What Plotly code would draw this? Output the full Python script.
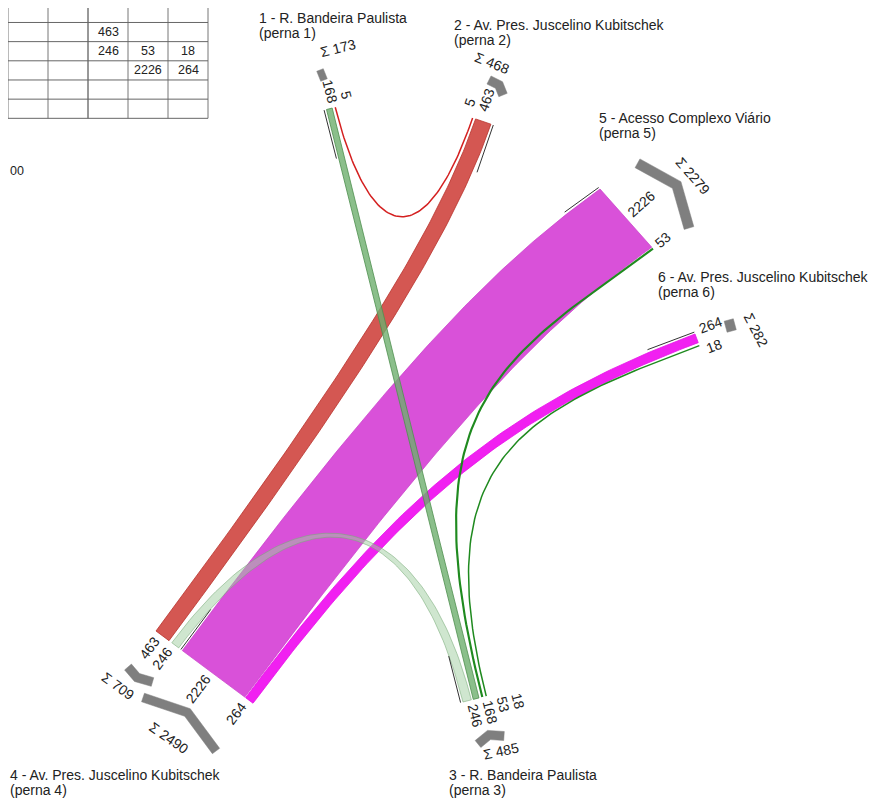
import numpy as np
import plotly.graph_objects as go

# ---- data: turning movements (veh/h), origin leg -> destination leg ----
flow_origin = [1, 4, 1, 4, 5, 6, 5, 6]
flow_dest = [2, 2, 3, 3, 3, 3, 4, 4]
flow_volume = [5, 463, 168, 246, 53, 18, 2226, 264]

leg_ids = [1, 2, 3, 4, 5, 6]
leg_names = [
    "1 - R. Bandeira Paulista",
    "2 - Av. Pres. Juscelino Kubitschek",
    "3 - R. Bandeira Paulista",
    "4 - Av. Pres. Juscelino Kubitschek",
    "5 - Acesso Complexo Viário",
    "6 - Av. Pres. Juscelino Kubitschek",
]
leg_subtitles = ["(perna 1)", "(perna 2)", "(perna 3)", "(perna 4)", "(perna 5)", "(perna 6)"]

# ---- drawing setup (pixel space of the page, y down) ----
# the page body has an 8px margin, so the figure is 8px smaller and the axes start at 8
PAGE_W, PAGE_H, BODY = 878, 798, 8
SCALE = 0.035  # px per veh/h
FONT = "Liberation Sans, Arial, sans-serif"
TXT = "#222"

# end line of every leg: start point, direction along the end, normal into the junction,
# direction in which the flows leave the end
legs = {
    1: dict(p=(326.5, 109.5), along=(0.969, -0.247), inward=(0.247, 0.969), flow=(0.247, 0.969), gaps=[2.5]),
    2: dict(p=(472.0, 117.7), along=(0.946, 0.325), inward=(-0.325, 0.946), flow=(-0.325, 0.946), gaps=[2.5]),
    3: dict(p=(463.0, 702.0), along=(0.969, -0.247), inward=(-0.247, -0.969), flow=(-0.247, -0.969),
            gaps=[2.0, 2.5, 2.5]),
    4: dict(p=(156.0, 631.0), along=(0.802, 0.597), inward=(0.597, -0.802), flow=(0.597, -0.802),
            gaps=[3.5, 4.5, 1.0]),
    5: dict(p=(600.0, 189.0), along=(0.664, 0.747), inward=(-0.747, 0.664), flow=(-0.81, 0.586), gaps=[1.0]),
    6: dict(p=(695.0, 334.0), along=(0.351, 0.936), inward=(-0.936, 0.351), flow=(-0.936, 0.351), gaps=[2.5]),
}
# order of the flows along each leg end (index into the flow lists)
slot_order = {1: [2, 0], 2: [0, 1], 3: [3, 2, 4, 5], 4: [1, 3, 6, 7], 5: [6, 4], 6: [7, 5]}
# volume label spreading per leg: (shift along end line, min spacing, extra outward gap)
label_spread = {1: (9, 15, 0), 2: (-6, 14, 5), 3: (15.5, 15, 0), 4: (-3, 16, 1), 5: (0, 14, 0), 6: (-1, 20, 1)}
# divider line beside each leg (offset along end line, length)
dividers = {1: (-2.5, 50), 2: (22.5, 50), 3: (-2.5, 48), 4: (31.0, 50), 5: (-2.0, 42), 6: (-2.0, 50)}
# bezier handle lengths at origin / destination
handles = [(145, 145), (335, 110), (200, 200), (220, 190), (190, 300), (180, 250), (115, 380), (200, 250)]
fill_colors = ["#d42020", "rgba(205,58,52,0.85)", "rgba(110,175,110,0.8)", "rgba(160,205,160,0.5)",
               "#1f8a1f", "#1f8a1f", "rgba(211,55,211,0.87)", "rgba(240,20,240,0.95)"]
edge_colors = ["#d42020", "#b8322c", "#4f8f4f", "rgba(120,170,120,0.7)",
               "#1f8a1f", "#1f8a1f", "rgba(200,60,200,0.9)", "rgba(230,20,230,1)"]

# sum markers: (leg, kind) -> chevron centre line, thickness, label centre, label angle
sum_marks = {
    (1, "out"): ([(320, 70), (324, 80)], 7, (338, 48), -14),
    (2, "in"): ([(489, 80), (499, 85), (503, 95)], 9, (492, 63), 22),
    (5, "out"): ([(637.5, 163.3), (676.7, 185), (689, 228)], 10, (693, 176), 49),
    (6, "out"): ([(728.7, 320), (731.7, 331)], 9.5, (756, 330), 63),
    (4, "out"): ([(128, 667), (137, 677.5), (152.5, 682)], 9, (118, 686), 36),
    (4, "in"): ([(143, 697.5), (187.5, 712.5), (216, 751)], 9, (169, 738), 35),
    (3, "in"): ([(478, 744), (489, 735), (504, 736)], 9, (501, 751), -12),
}
leg_label_pos = {1: (257, 18), 2: (452, 25), 3: (447, 775), 4: (8, 775), 5: (597, 118), 6: (656, 277)}

# table (rows = destination, columns = origin)
table_x0, table_col_w = 8 - 40, 40
table_y0, table_row_h = 3.3, 19.17


def v(a):
    return np.asarray(a, dtype=float)


def slot_ranges(leg):
    rng, pos = {}, 0.0
    gaps = legs[leg]["gaps"]
    for k, fi in enumerate(slot_order[leg]):
        w = max(flow_volume[fi] * SCALE, 1.3)
        rng[fi] = (pos, pos + w)
        pos += w + (gaps[k] if k < len(gaps) else 2.0)
    return rng


ranges = {leg: slot_ranges(leg) for leg in leg_ids}
offsets = {leg: {fi: sum(r) / 2 for fi, r in ranges[leg].items()} for leg in leg_ids}


def label_offsets(leg):
    shift, spacing, _ = label_spread[leg]
    order = slot_order[leg]
    base = [offsets[leg][fi] for fi in order]
    pos = list(base)
    for i in range(1, len(pos)):
        pos[i] = max(pos[i], pos[i - 1] + spacing)
    corr = np.mean(base) - np.mean(pos) + shift
    return {fi: p + corr for fi, p in zip(order, pos)}


lab_offsets = {leg: label_offsets(leg) for leg in leg_ids}


def end_point(leg, off):
    L = legs[leg]
    return v(L["p"]) + off * v(L["along"])


def bezier(p0, c1, c2, p3, n=90):
    t = np.linspace(0, 1, n)[:, None]
    return (1 - t) ** 3 * p0 + 3 * (1 - t) ** 2 * t * c1 + 3 * (1 - t) * t ** 2 * c2 + t ** 3 * p3


def flow_curve(fi, off_o, off_d):
    o, d = flow_origin[fi], flow_dest[fi]
    p0, p3 = end_point(o, off_o), end_point(d, off_d)
    c1 = p0 + handles[fi][0] * v(legs[o]["flow"])
    c2 = p3 + handles[fi][1] * v(legs[d]["flow"])
    return bezier(p0, c1, c2, p3)


def cross(a, b):
    return a[0] * b[1] - a[1] * b[0]


def thick_polyline(pts, w):
    pts = v(pts)
    seg = np.diff(pts, axis=0)
    nrm = np.stack([-seg[:, 1], seg[:, 0]], axis=1)
    nrm /= np.linalg.norm(nrm, axis=1)[:, None]
    offs = []
    for i in range(len(pts)):
        if i == 0:
            m = nrm[0]
        elif i == len(pts) - 1:
            m = nrm[-1]
        else:
            m = nrm[i - 1] + nrm[i]
            m = m / np.linalg.norm(m)
            m = m / np.dot(m, nrm[i])
        offs.append(m * w / 2)
    offs = np.array(offs)
    return np.vstack([pts + offs, (pts - offs)[::-1], (pts + offs)[:1]])


def angle(vec):
    return float(np.degrees(np.arctan2(vec[1], vec[0])))


fig = go.Figure()

# table grid
for k in range(0, 7):
    x = table_x0 + table_col_w * k
    fig.add_shape(type="line", x0=x, x1=x, y0=0, y1=table_y0 + 6 * table_row_h,
                  line=dict(color="#333" if k == 3 else "#777", width=1))
for k in range(7):
    y = table_y0 + table_row_h * k
    fig.add_shape(type="line", x0=0, x1=table_x0 + 6 * table_col_w, y0=y, y1=y,
                  line=dict(color="#666", width=1))
for o, d, vol in zip(flow_origin, flow_dest, flow_volume):
    cx = table_x0 + table_col_w * (o - 0.5)
    cy = table_y0 + table_row_h * (d - 0.5)
    if cx > BODY:
        fig.add_annotation(x=cx, y=cy, text=str(vol), showarrow=False,
                           font=dict(family=FONT, size=12.5, color=TXT))
fig.add_annotation(x=8, y=171, text="00", showarrow=False, xanchor="left",
                   font=dict(family=FONT, size=12.5, color=TXT))

# flows
draw_order = [6, 7, 1, 2, 3, 4, 5, 0]
for fi in draw_order:
    o, d, vol = flow_origin[fi], flow_dest[fi], flow_volume[fi]
    w = vol * SCALE
    if w < 2.5:
        pts = flow_curve(fi, offsets[o][fi], offsets[d][fi])
        fig.add_trace(go.Scatter(x=pts[:, 0], y=pts[:, 1], mode="lines",
                                 line=dict(color=fill_colors[fi], width=max(w + 0.3, 1.5)),
                                 hoverinfo="skip"))
        continue
    # each ribbon edge is its own curve, so the ends follow the leg end lines
    lo_o, hi_o = ranges[o][fi]
    lo_d, hi_d = ranges[d][fi]
    same = np.sign(cross(v(legs[o]["flow"]), v(legs[o]["along"]))) == \
        np.sign(cross(-v(legs[d]["flow"]), v(legs[d]["along"])))
    edge_a = flow_curve(fi, lo_o, lo_d if same else hi_d)
    edge_b = flow_curve(fi, hi_o, hi_d if same else lo_d)
    poly = np.vstack([edge_a, edge_b[::-1], edge_a[:1]])
    fig.add_trace(go.Scatter(x=poly[:, 0], y=poly[:, 1], mode="lines", fill="toself",
                             fillcolor=fill_colors[fi], line=dict(color=edge_colors[fi], width=0.8),
                             hoverinfo="skip"))

# dividers at leg ends
for leg, (off, length) in dividers.items():
    a = end_point(leg, off)
    b = a + length * v(legs[leg]["flow"])
    fig.add_trace(go.Scatter(x=[a[0], b[0]], y=[a[1], b[1]], mode="lines",
                             line=dict(color="#333", width=1), hoverinfo="skip"))

# volume labels at both ends of every flow
for fi, vol in enumerate(flow_volume):
    for leg in (flow_origin[fi], flow_dest[fi]):
        inward = v(legs[leg]["inward"])
        out = -inward
        txt = str(vol)
        dist = 5 + 3.9 * len(txt) + label_spread[leg][2]
        pos = end_point(leg, lab_offsets[leg][fi]) + dist * out
        ang = angle(out) if out[0] >= 0 else angle(inward)
        fig.add_annotation(x=pos[0], y=pos[1], text=txt, showarrow=False, textangle=ang,
                           font=dict(family=FONT, size=14, color=TXT))

# sum chevrons
for (leg, kind), (pts, w, lab, ang) in sum_marks.items():
    if kind == "out":
        total = sum(vol for o, vol in zip(flow_origin, flow_volume) if o == leg)
    else:
        total = sum(vol for d, vol in zip(flow_dest, flow_volume) if d == leg)
    poly = thick_polyline(pts, w)
    fig.add_trace(go.Scatter(x=poly[:, 0], y=poly[:, 1], mode="lines", fill="toself",
                             fillcolor="#7f7f7f", line=dict(color="#7f7f7f", width=0.5),
                             hoverinfo="skip"))
    fig.add_annotation(x=lab[0], y=lab[1], text=f"Σ {total}", showarrow=False, textangle=ang,
                       font=dict(family=FONT, size=14, color=TXT))

# leg names (two lines each)
for leg, name, sub in zip(leg_ids, leg_names, leg_subtitles):
    x, y = leg_label_pos[leg]
    for k, line in enumerate([name, sub]):
        fig.add_annotation(x=x, y=y + 14.5 * k, text=line, showarrow=False, xanchor="left",
                           yanchor="middle", font=dict(family=FONT, size=14, color=TXT))

fig.update_layout(
    width=PAGE_W - BODY, height=PAGE_H - BODY, margin=dict(l=0, r=0, t=0, b=0),
    paper_bgcolor="white", plot_bgcolor="white", showlegend=False,
    xaxis=dict(range=[BODY, PAGE_W], visible=False, fixedrange=True),
    yaxis=dict(range=[PAGE_H, BODY], visible=False, fixedrange=True),
)
fig.write_html("out.html")
